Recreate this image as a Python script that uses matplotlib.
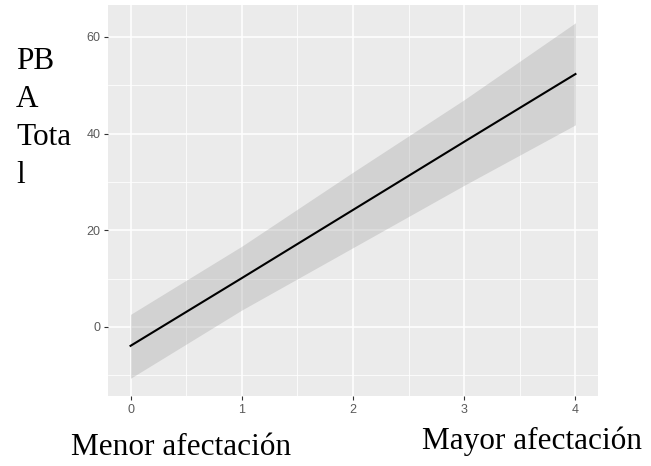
import matplotlib.pyplot as plt
import numpy as np

# values
x_vals = [0, 1, 2, 3, 4]
fit = [-3.9, 10.1, 24.2, 38.3, 52.3]
upper = [2.6, 16.7, 32.0, 47.0, 62.9]
lower = [-10.6, 3.5, 16.4, 29.3, 41.8]
x_ticks = [0, 1, 2, 3, 4]
y_ticks = [0, 20, 40, 60]
y_label = "PB\nA\nTota\nl"
left_note = "Menor afectación"
right_note = "Mayor afectación"

W, H = 651, 466
fig = plt.figure(figsize=(W / 100, H / 100), dpi=100)
ax = fig.add_axes([108.3 / W, 1 - 396 / H, (597.7 - 108.3) / W, (396 - 5) / H])
ax.set_facecolor("#EBEBEB")

# ggplot-like grid
ax.set_xticks(x_ticks)
ax.set_yticks(y_ticks)
ax.set_xticks(np.arange(-0.5, 4.6, 1.0), minor=True)
ax.set_yticks(np.arange(-10, 61, 20), minor=True)
ax.grid(which="major", color="white", linewidth=1.1)
ax.grid(which="minor", color="white", linewidth=0.55)
ax.set_axisbelow(True)
for s in ax.spines.values():
    s.set_visible(False)

ax.fill_between(x_vals, lower, upper, color="#999999", alpha=0.3, linewidth=0)
ax.plot(x_vals, fit, color="black", linewidth=1.5)

xr = max(x_vals) - min(x_vals)
ax.set_xlim(min(x_vals) - 0.05 * xr, max(x_vals) + 0.05 * xr)
lo, hi = min(lower), max(upper)
ax.set_ylim(lo - 0.05 * (hi - lo), hi + 0.05 * (hi - lo))

ax.tick_params(which="major", length=3, width=0.8, color="#333333",
               labelcolor="#5A5A5A", labelsize=9, pad=2.5)
ax.tick_params(which="minor", length=0)
for lab in ax.get_xticklabels() + ax.get_yticklabels():
    lab.set_family("Liberation Sans")

serif = "Liberation Serif"
fig.text(16 / W, 1 - 47 / H, y_label, family=serif, fontsize=22.5,
         ha="left", va="top", linespacing=1.41)
fig.text(71 / W, 1 - 455 / H, left_note, family=serif, fontsize=22.5,
         ha="left", va="baseline")
fig.text(422 / W, 1 - 449 / H, right_note, family=serif, fontsize=22.5,
         ha="left", va="baseline")

fig.savefig("out.png", dpi=100)
